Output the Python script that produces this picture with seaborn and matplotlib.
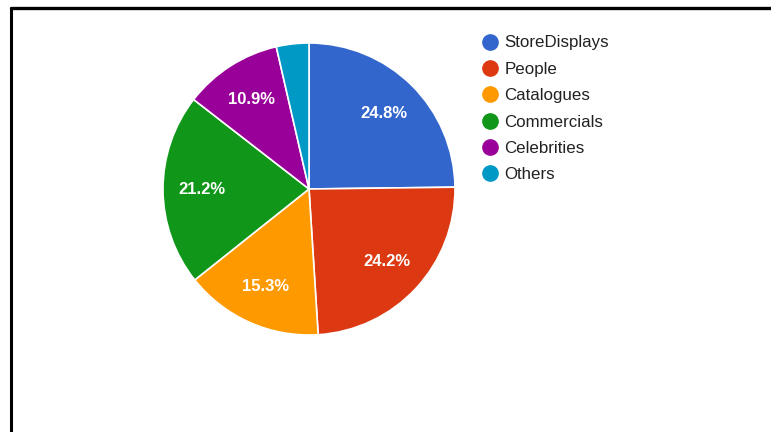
import matplotlib
matplotlib.use("Agg")
import matplotlib.pyplot as plt
from matplotlib.lines import Line2D
import seaborn as sns

categories = ["StoreDisplays", "People", "Catalogues", "Commercials", "Celebrities", "Others"]
shares = [24.8, 24.2, 15.3, 21.2, 10.9, 3.6]
colors = ["#3366cc", "#dc3912", "#ff9900", "#109618", "#990099", "#0099c6"]

sns.set_theme(style="white")
plt.rcParams["font.family"] = ["Liberation Sans", "DejaVu Sans"]

W, H = 771, 432
fig = plt.figure(figsize=(W / 100, H / 100), dpi=100)
fig.patch.set_facecolor("white")

# pie axes: centre and radius in pixels
cx, cy, r = 309, 189, 146
ax = fig.add_axes([(cx - r) / W, (H - cy - r) / H, 2 * r / W, 2 * r / H])


def pct_label(p):
    return f"{p:.1f}%" if p >= 5 else ""


wedges, _, autotexts = ax.pie(
    shares,
    colors=colors,
    startangle=90,
    counterclock=False,
    autopct=pct_label,
    pctdistance=0.73,
    wedgeprops=dict(edgecolor="white", linewidth=1.2),
    textprops=dict(color="white", fontsize=12, fontweight="bold"),
)
ax.set_xlim(-1.0, 1.0)
ax.set_ylim(-1.0, 1.0)
ax.set_aspect("equal")

handles = [
    Line2D([], [], marker="o", linestyle="", markersize=11,
           markerfacecolor=c, markeredgecolor=c)
    for c in colors
]
fig.legend(
    handles, categories,
    loc="upper left",
    bbox_to_anchor=(480 / W, 1 - 35.5 / H),
    frameon=False,
    fontsize=12.2,
    labelspacing=0.67,
    handletextpad=0.25,
    handlelength=1.2,
    borderaxespad=0,
    borderpad=0,
    labelcolor="#222222",
)

# frame lines on the left and top edges
fig.add_artist(Line2D([10.5 / W, 10.5 / W], [0, 1 - 7.5 / H], transform=fig.transFigure,
                      color="black", linewidth=2.2))
fig.add_artist(Line2D([10.5 / W, 1], [1 - 7.5 / H, 1 - 7.5 / H], transform=fig.transFigure,
                      color="black", linewidth=2.4))

fig.savefig("out.png", dpi=100, facecolor="white")
